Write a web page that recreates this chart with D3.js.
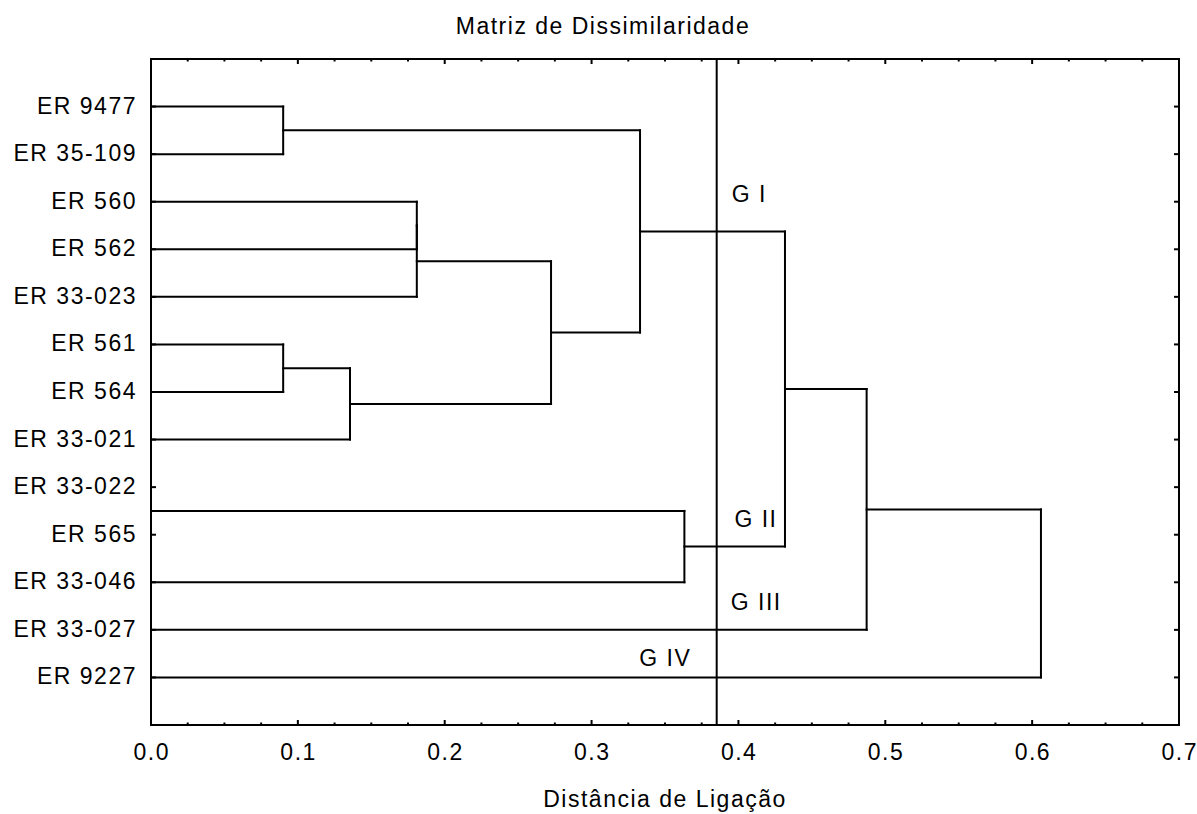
<!DOCTYPE html>
<html>
<head>
<meta charset="utf-8">
<script src="https://cdn.jsdelivr.net/npm/d3@7"></script>
<style>
  html, body { margin: 0; padding: 0; background: #fff; }
  svg text { font-family: "Liberation Sans", Arial, sans-serif; fill: #000; }
</style>
</head>
<body>
<svg id="chart" width="1197" height="814"></svg>
<script>
// ---- Data ----
const rowLabels = ["ER 9477", "ER 35-109", "ER 560", "ER 562", "ER 33-023", "ER 561", "ER 564",
  "ER 33-021", "ER 33-022", "ER 565", "ER 33-046", "ER 33-027", "ER 9227"];
// row positions (in label-row units) of the leaf lines of the dendrogram
const leafRows = [0, 1, 2, 3, 4, 5, 6, 7, 8.5, 10, 11, 12];
// merges: [child A, child B, linkage distance]; leaves are 0..11, new nodes numbered from 12
const merges = [
  [0, 1, 0.090],
  [2, 3, 0.181],
  [13, 4, 0.181],
  [5, 6, 0.090],
  [15, 7, 0.1355],
  [14, 16, 0.2724],
  [12, 17, 0.333],
  [8, 9, 0.3632],
  [18, 19, 0.4317],
  [20, 10, 0.4873],
  [21, 11, 0.606]
];
const cutDistance = 0.3852;
const groupLabels = ["G I", "G II", "G III", "G IV"];
const groupX = [0.3954, 0.3973, 0.3948, 0.3325];
const groupRow = [2.0, 8.83, 10.58, 11.77];
const xTicks = [0, 0.1, 0.2, 0.3, 0.4, 0.5, 0.6, 0.7];
const title = "Matriz de Dissimilaridade";
const xTitle = "Distância de Ligação";

// ---- Layout ----
const svg = d3.select("#chart");
const mLeft = 151, mRight = 1179, mTop = 59, mBottom = 725;
const x = d3.scaleLinear().domain([0, 0.7]).range([mLeft, mRight]);
const y = d3.scaleLinear().domain([-1, rowLabels.length]).range([mTop, mBottom]);
const FS = "23px", LS = "1.5px";

const minor = d3.range(0, 0.7001, 0.025);
const isMajor = d => Math.abs(d * 10 - Math.round(d * 10)) < 1e-6;
const gAxes = svg.append("g").attr("stroke", "#000").attr("stroke-width", 2);

gAxes.selectAll("line.bt").data(minor).join("line").attr("class", "bt")
  .attr("x1", d => x(d)).attr("x2", d => x(d))
  .attr("y1", mBottom).attr("y2", d => mBottom - (isMajor(d) ? 5 : 2.5));
gAxes.selectAll("line.tt").data(minor).join("line").attr("class", "tt")
  .attr("x1", d => x(d)).attr("x2", d => x(d))
  .attr("y1", mTop).attr("y2", d => mTop + (isMajor(d) ? 5 : 2.5));
const rowsIdx = d3.range(rowLabels.length);
gAxes.selectAll("line.lt").data(rowsIdx).join("line").attr("class", "lt")
  .attr("x1", mLeft).attr("x2", mLeft + 5).attr("y1", d => y(d)).attr("y2", d => y(d));
gAxes.selectAll("line.rt").data(rowsIdx).join("line").attr("class", "rt")
  .attr("x1", mRight).attr("x2", mRight - 5).attr("y1", d => y(d)).attr("y2", d => y(d));

// frame
svg.append("rect").attr("x", mLeft).attr("y", mTop).attr("width", mRight - mLeft).attr("height", mBottom - mTop)
  .attr("fill", "none").attr("stroke", "#000").attr("stroke-width", 2);

// x tick labels
svg.selectAll("text.xt").data(xTicks).join("text").attr("class", "xt")
  .attr("x", d => x(d) + 0.75).attr("y", 760).attr("text-anchor", "middle")
  .style("font-size", FS).style("letter-spacing", LS)
  .text(d => d3.format(".1f")(d));

// y labels
svg.selectAll("text.yl").data(rowLabels).join("text").attr("class", "yl")
  .attr("x", 137).attr("y", (d, i) => y(i) + 7).attr("text-anchor", "end")
  .style("font-size", FS).style("letter-spacing", LS)
  .text(d => d);

// dendrogram
const nodes = leafRows.map(r => ({ x: 0, y: r }));
const segs = [];
merges.forEach(([a, b, h]) => {
  const A = nodes[a], B = nodes[b];
  segs.push([A.x, A.y, h, A.y]);
  segs.push([B.x, B.y, h, B.y]);
  segs.push([h, A.y, h, B.y]);
  nodes.push({ x: h, y: (A.y + B.y) / 2 });
});
svg.append("g").selectAll("line").data(segs).join("line")
  .attr("x1", d => x(d[0])).attr("y1", d => y(d[1]))
  .attr("x2", d => x(d[2])).attr("y2", d => y(d[3]))
  .attr("stroke", "#000").attr("stroke-width", 2).attr("stroke-linecap", "square");

// cut line
svg.append("line").attr("x1", x(cutDistance)).attr("x2", x(cutDistance))
  .attr("y1", mTop).attr("y2", mBottom).attr("stroke", "#000").attr("stroke-width", 2);

// group labels
svg.selectAll("text.gl").data(groupLabels).join("text").attr("class", "gl")
  .attr("x", (d, i) => x(groupX[i])).attr("y", (d, i) => y(groupRow[i]))
  .style("font-size", FS).style("letter-spacing", LS)
  .text(d => d);

// titles
svg.append("text").attr("x", 603).attr("y", 34).attr("text-anchor", "middle")
  .style("font-size", FS).style("letter-spacing", LS).text(title);
svg.append("text").attr("x", 665).attr("y", 807).attr("text-anchor", "middle")
  .style("font-size", FS).style("letter-spacing", LS).text(xTitle);
</script>
</body>
</html>
